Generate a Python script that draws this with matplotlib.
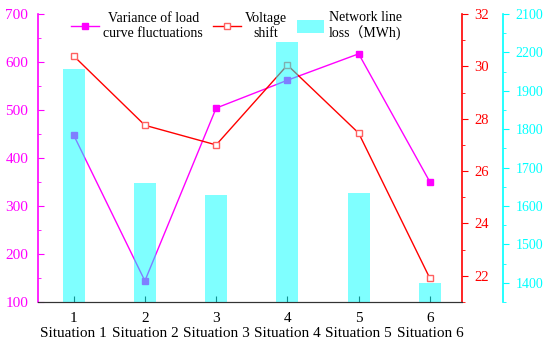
import numpy as np
import matplotlib
matplotlib.use("Agg")
import matplotlib.pyplot as plt
from matplotlib.ticker import FixedLocator, MultipleLocator

plt.rcParams['font.family'] = ['Liberation Serif', 'Noto Sans CJK SC']

# data
situations = [1, 2, 3, 4, 5, 6]
x_labels = ["1\nSituation 1", "2\nSituation 2", "3\nSituation 3",
            "4\nSituation 4", "5\nSituation 5", "6\nSituation 6"]
variance = [448, 144, 504, 562, 617, 350]          # left axis (magenta)
voltage_shift = [30.4, 27.75, 27.0, 30.05, 27.45, 21.9]  # red axis
line_loss = [1957, 1660, 1629, 2027, 1634, 1400]   # cyan axis (bars)

# cyan axis tick labels as printed on the original (including its "2200")
loss_ticks = [1400, 1500, 1600, 1700, 1800, 1900, 2000, 2100]
loss_tick_labels = ["1400", "1500", "1600", "1700", "1800", "1900", "2200", "2100"]

MAG = "#ff00ff"
RED = "#ff0000"
CYAN = "#00ffff"

fig = plt.figure(figsize=(5.5, 3.5), dpi=100)
ax = fig.add_axes([38 / 550, 48 / 350, 424 / 550, 288 / 350])
ax2 = ax.twinx()
ax3 = ax.twinx()

# magenta line: variance of load curve fluctuations
l1, = ax.plot(situations, variance, color=MAG, lw=1, marker="s", ms=5,
              mfc=MAG, mec=MAG, label="Variance of load\ncurve fluctuations")
ax.set_ylim(100, 700)
ax.yaxis.set_major_locator(MultipleLocator(100))
ax.yaxis.set_minor_locator(MultipleLocator(50))
ax.tick_params(axis="y", which="both", direction="in", colors=MAG,
               labelsize=11, pad=7)
ax.tick_params(axis="y", which="major", length=4)
ax.tick_params(axis="y", which="minor", length=2.5)
ax.spines["left"].set_color(MAG)
ax.spines["left"].set_linewidth(1.2)

ax.set_xlim(0.5, 6.45)
ax.set_xticks(situations)
ax.set_xticklabels(x_labels, fontsize=11)
ax.tick_params(axis="x", direction="in", length=4, color="#222222", pad=7.5)
ax.spines["bottom"].set_color("#333333")
for s in ["top", "right"]:
    ax.spines[s].set_visible(False)

# red line: voltage shift
l2, = ax2.plot(situations, voltage_shift, color=RED, lw=1, marker="s", ms=5,
               mfc="white", mec="#ff6060", mew=1, label="Voltage\nshift")
ax2.set_ylim(21, 32)
ax2.yaxis.set_major_locator(MultipleLocator(2))
ax2.yaxis.set_minor_locator(MultipleLocator(1))
ax2.tick_params(axis="y", which="both", direction="out", colors=RED,
                labelsize=10.5, pad=5)
ax2.tick_params(axis="y", which="major", length=4)
ax2.tick_params(axis="y", which="minor", length=2.5)
ax2.spines["right"].set_color(RED)
ax2.spines["right"].set_linewidth(1.2)
for s in ["top", "left", "bottom"]:
    ax2.spines[s].set_visible(False)

# cyan bars: network line loss (drawn on top, semi transparent)
b3 = ax3.bar(situations, line_loss, width=0.31, color=CYAN, alpha=0.5,
             label="Network line\nloss（MWh)")
ax3.set_ylim(1350, 2100)
ax3.yaxis.set_major_locator(FixedLocator(loss_ticks))
ax3.set_yticklabels(loss_tick_labels)
ax3.yaxis.set_minor_locator(MultipleLocator(50))
ax3.tick_params(axis="y", which="both", direction="out", colors=CYAN,
                labelsize=10, pad=5)
ax3.tick_params(axis="y", which="major", length=4)
ax3.tick_params(axis="y", which="minor", length=2.5)
ax3.spines["right"].set_position(("outward", 29.5))
ax3.spines["right"].set_color(CYAN)
ax3.spines["right"].set_linewidth(1.2)
ax3.spines["bottom"].set_color("#333333")
for s in ["top", "left"]:
    ax3.spines[s].set_visible(False)

leg = fig.legend(handles=[l1, l2, b3], loc="center left",
                 bbox_to_anchor=(0.107, 0.925), ncol=3, frameon=False,
                 fontsize=10, handlelength=2.0, handleheight=1.0,
                 handletextpad=0.3, columnspacing=0.7)
for t in leg.get_texts():
    t.set_multialignment("center")

fig.savefig("out.png", dpi=100)
